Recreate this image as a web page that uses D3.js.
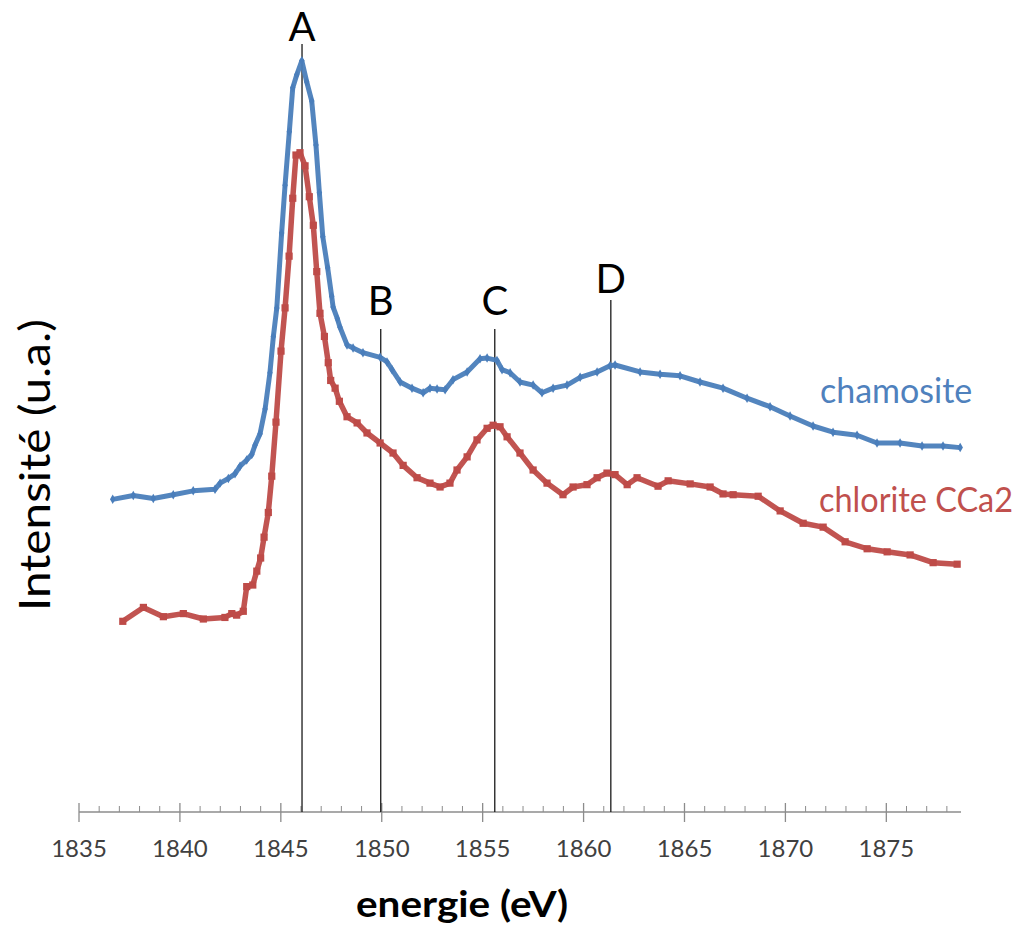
<!DOCTYPE html>
<html>
<head>
<meta charset="utf-8">
<script src="https://cdnjs.cloudflare.com/ajax/libs/d3/7.8.5/d3.min.js"></script>
<style>
  body { margin: 0; background: #fff; }
  text { font-family: Lato, "Open Sans", sans-serif; }
</style>
</head>
<body>
<div id="chart"></div>
<script>
// spectres XANES (intensité en u.a.)
var chamositeE = [1836.67,1837.69,1838.68,1839.67,1840.66,1841.74,1841.99,1842.40,1842.73,1842.98,
    1843.31,1843.56,1843.72,1843.97,1844.22,1844.46,1844.63,1844.80,1845.04,1845.21,
    1845.42,1845.59,1845.79,1846.04,1846.28,1846.53,1846.74,1846.91,1847.08,1847.32,
    1847.52,1847.59,1847.80,1847.93,1848.28,1848.58,1849.07,1849.92,1850.26,1850.51,
    1850.91,1851.50,1852.05,1852.39,1852.74,1853.14,1853.53,1854.23,1854.87,1855.22,
    1855.71,1855.96,1856.36,1856.85,1857.50,1857.94,1858.49,1859.18,1859.83,1860.67,
    1861.31,1861.56,1862.80,1863.79,1864.78,1865.77,1866.91,1868.10,1869.24,1870.23,
    1871.37,1872.36,1873.55,1874.54,1875.68,1876.77,1877.81,1878.66];
var chamositeI = [0.405,0.410,0.406,0.411,0.416,0.418,0.426,0.432,0.438,0.448,
    0.456,0.463,0.475,0.490,0.522,0.569,0.616,0.653,0.750,0.812,
    0.881,0.938,0.955,0.973,0.946,0.921,0.864,0.802,0.745,0.705,
    0.668,0.654,0.639,0.628,0.605,0.601,0.595,0.589,0.583,0.573,
    0.557,0.549,0.543,0.549,0.548,0.547,0.560,0.570,0.587,0.588,
    0.585,0.573,0.569,0.557,0.553,0.543,0.549,0.553,0.563,0.570,
    0.578,0.579,0.570,0.567,0.565,0.557,0.549,0.536,0.525,0.513,
    0.500,0.492,0.488,0.478,0.478,0.474,0.474,0.472];

var chloriteE = [1837.17,1838.19,1839.18,1840.17,1841.16,1842.23,1842.57,1842.81,1843.14,1843.31,
    1843.61,1843.81,1844.00,1844.17,1844.38,1844.55,1844.76,1845.01,1845.21,1845.41,
    1845.59,1845.75,1845.95,1846.20,1846.41,1846.61,1846.78,1846.94,1847.16,1847.35,
    1847.47,1847.69,1847.90,1848.28,1848.78,1849.27,1849.92,1850.56,1851.06,1851.75,
    1852.39,1852.89,1853.38,1853.73,1854.23,1854.72,1855.22,1855.52,1855.86,1856.21,
    1856.85,1857.50,1858.19,1858.98,1859.48,1860.17,1860.67,1861.16,1861.56,1862.16,
    1862.65,1863.69,1864.19,1865.28,1866.27,1866.91,1867.41,1868.65,1869.74,1870.88,
    1871.87,1872.96,1874.05,1875.04,1876.18,1877.32,1878.51];
var chloriteI = [0.247,0.265,0.253,0.257,0.250,0.252,0.257,0.255,0.260,0.292,
    0.294,0.312,0.329,0.356,0.388,0.435,0.505,0.597,0.653,0.720,
    0.795,0.851,0.854,0.837,0.797,0.760,0.700,0.646,0.616,0.582,
    0.559,0.549,0.532,0.512,0.504,0.491,0.478,0.465,0.449,0.433,
    0.426,0.421,0.426,0.443,0.460,0.482,0.497,0.501,0.499,0.486,
    0.465,0.443,0.426,0.411,0.421,0.424,0.433,0.439,0.437,0.424,
    0.433,0.422,0.429,0.425,0.421,0.412,0.411,0.409,0.390,0.374,
    0.369,0.350,0.341,0.337,0.333,0.323,0.321];

var peakNames = ["A", "B", "C", "D"];
var peakE = [1846.05, 1849.95, 1855.6, 1861.35];

var majorTicks = [1835, 1840, 1845, 1850, 1855, 1860, 1865, 1870, 1875];
var minorTicks = d3.range(1835, 1879, 1);

var width = 1024, height = 930;
var blue = "#4A7EBB", red = "#BE4B48";

var svg = d3.select("#chart").append("svg")
    .attr("width", width)
    .attr("height", height);

var x = d3.scaleLinear().domain([1835, 1878.7]).range([79, 961]);
var y = d3.scaleLinear().domain([0, 1]).range([812, 40]);

// axe des x
var axisG = svg.append("g").attr("class", "axis");
axisG.append("line")
    .attr("x1", x(1835)).attr("x2", x(1878.7))
    .attr("y1", y(0)).attr("y2", y(0))
    .style("stroke", "#8c8c8c").style("stroke-width", 1.3);

axisG.selectAll("line.minor")
    .data(minorTicks.filter(function(d) { return d % 5 != 0; }))
    .enter().append("line")
    .attr("class", "minor")
    .attr("x1", function(d) { return x(d); })
    .attr("x2", function(d) { return x(d); })
    .attr("y1", y(0) - 6).attr("y2", y(0))
    .style("stroke", "#8c8c8c").style("stroke-width", 1);

axisG.selectAll("line.major")
    .data(majorTicks)
    .enter().append("line")
    .attr("class", "major")
    .attr("x1", function(d) { return x(d); })
    .attr("x2", function(d) { return x(d); })
    .attr("y1", y(0) - 9).attr("y2", y(0) + 10)
    .style("stroke", "#8c8c8c").style("stroke-width", 1.3);

axisG.selectAll("text.tick")
    .data(majorTicks)
    .enter().append("text")
    .attr("class", "tick")
    .attr("x", function(d) { return x(d); })
    .attr("y", 857)
    .attr("text-anchor", "middle")
    .style("font-size", "24px")
    .style("fill", "#404040")
    .text(function(d) { return d; });

// traits verticaux des pics
var peakTop = {A: 44, B: 329, C: 329, D: 300};
var labelY = {A: 41, B: 315, C: 315, D: 293};

var peaks = svg.append("g").attr("class", "peaks");
peakNames.forEach(function(p, i) {
    peaks.append("line")
        .attr("x1", x(peakE[i])).attr("x2", x(peakE[i]))
        .attr("y1", peakTop[p]).attr("y2", y(0))
        .style("stroke", "#1a1a1a").style("stroke-width", 1.3);
    peaks.append("text")
        .attr("x", x(peakE[i]))
        .attr("y", labelY[p])
        .attr("text-anchor", "middle")
        .style("font-size", "40px")
        .style("fill", "#000")
        .text(p);
});

// courbes
var series = [
    {name: "chamosite", e: chamositeE, v: chamositeI, color: blue, symbol: d3.symbolDiamond, size: 26, lw: 5},
    {name: "chlorite CCa2", e: chloriteE, v: chloriteI, color: red, symbol: d3.symbolSquare, size: 52, lw: 5.5}
];

var line = d3.line()
    .x(function(d) { return x(d[0]); })
    .y(function(d) { return y(d[1]); });

series.forEach(function(s) {
    var pts = d3.zip(s.e, s.v);
    svg.append("path")
        .datum(pts)
        .attr("d", line)
        .style("fill", "none")
        .style("stroke", s.color)
        .style("stroke-width", s.lw)
        .style("stroke-linejoin", "round")
        .style("stroke-opacity", 0.95);
    svg.append("g").selectAll("path")
        .data(pts)
        .enter().append("path")
        .attr("transform", function(d) { return "translate(" + x(d[0]) + "," + y(d[1]) + ")"; })
        .attr("d", d3.symbol().type(s.symbol).size(s.size))
        .style("fill", s.color);
});

// étiquettes des séries
svg.append("text")
    .attr("x", 820).attr("y", 403)
    .style("font-size", "34px")
    .style("fill", "#4F81BD")
    .text("chamosite");

svg.append("text")
    .attr("x", 819).attr("y", 512)
    .attr("textLength", 194)
    .attr("lengthAdjust", "spacingAndGlyphs")
    .style("font-size", "34px")
    .style("fill", "#C0504D")
    .text("chlorite CCa2");

// titres des axes
svg.append("text")
    .attr("x", 462).attr("y", 917)
    .attr("text-anchor", "middle")
    .attr("textLength", 212)
    .attr("lengthAdjust", "spacingAndGlyphs")
    .style("font-size", "36px")
    .style("font-weight", "bold")
    .style("fill", "#000")
    .text("energie (eV)");

svg.append("text")
    .attr("transform", "translate(50,465) rotate(-90)")
    .attr("text-anchor", "middle")
    .attr("textLength", 292)
    .attr("lengthAdjust", "spacingAndGlyphs")
    .style("font-size", "42px")
    .style("fill", "#000")
    .text("Intensité (u.a.)");
</script>
</body>
</html>
